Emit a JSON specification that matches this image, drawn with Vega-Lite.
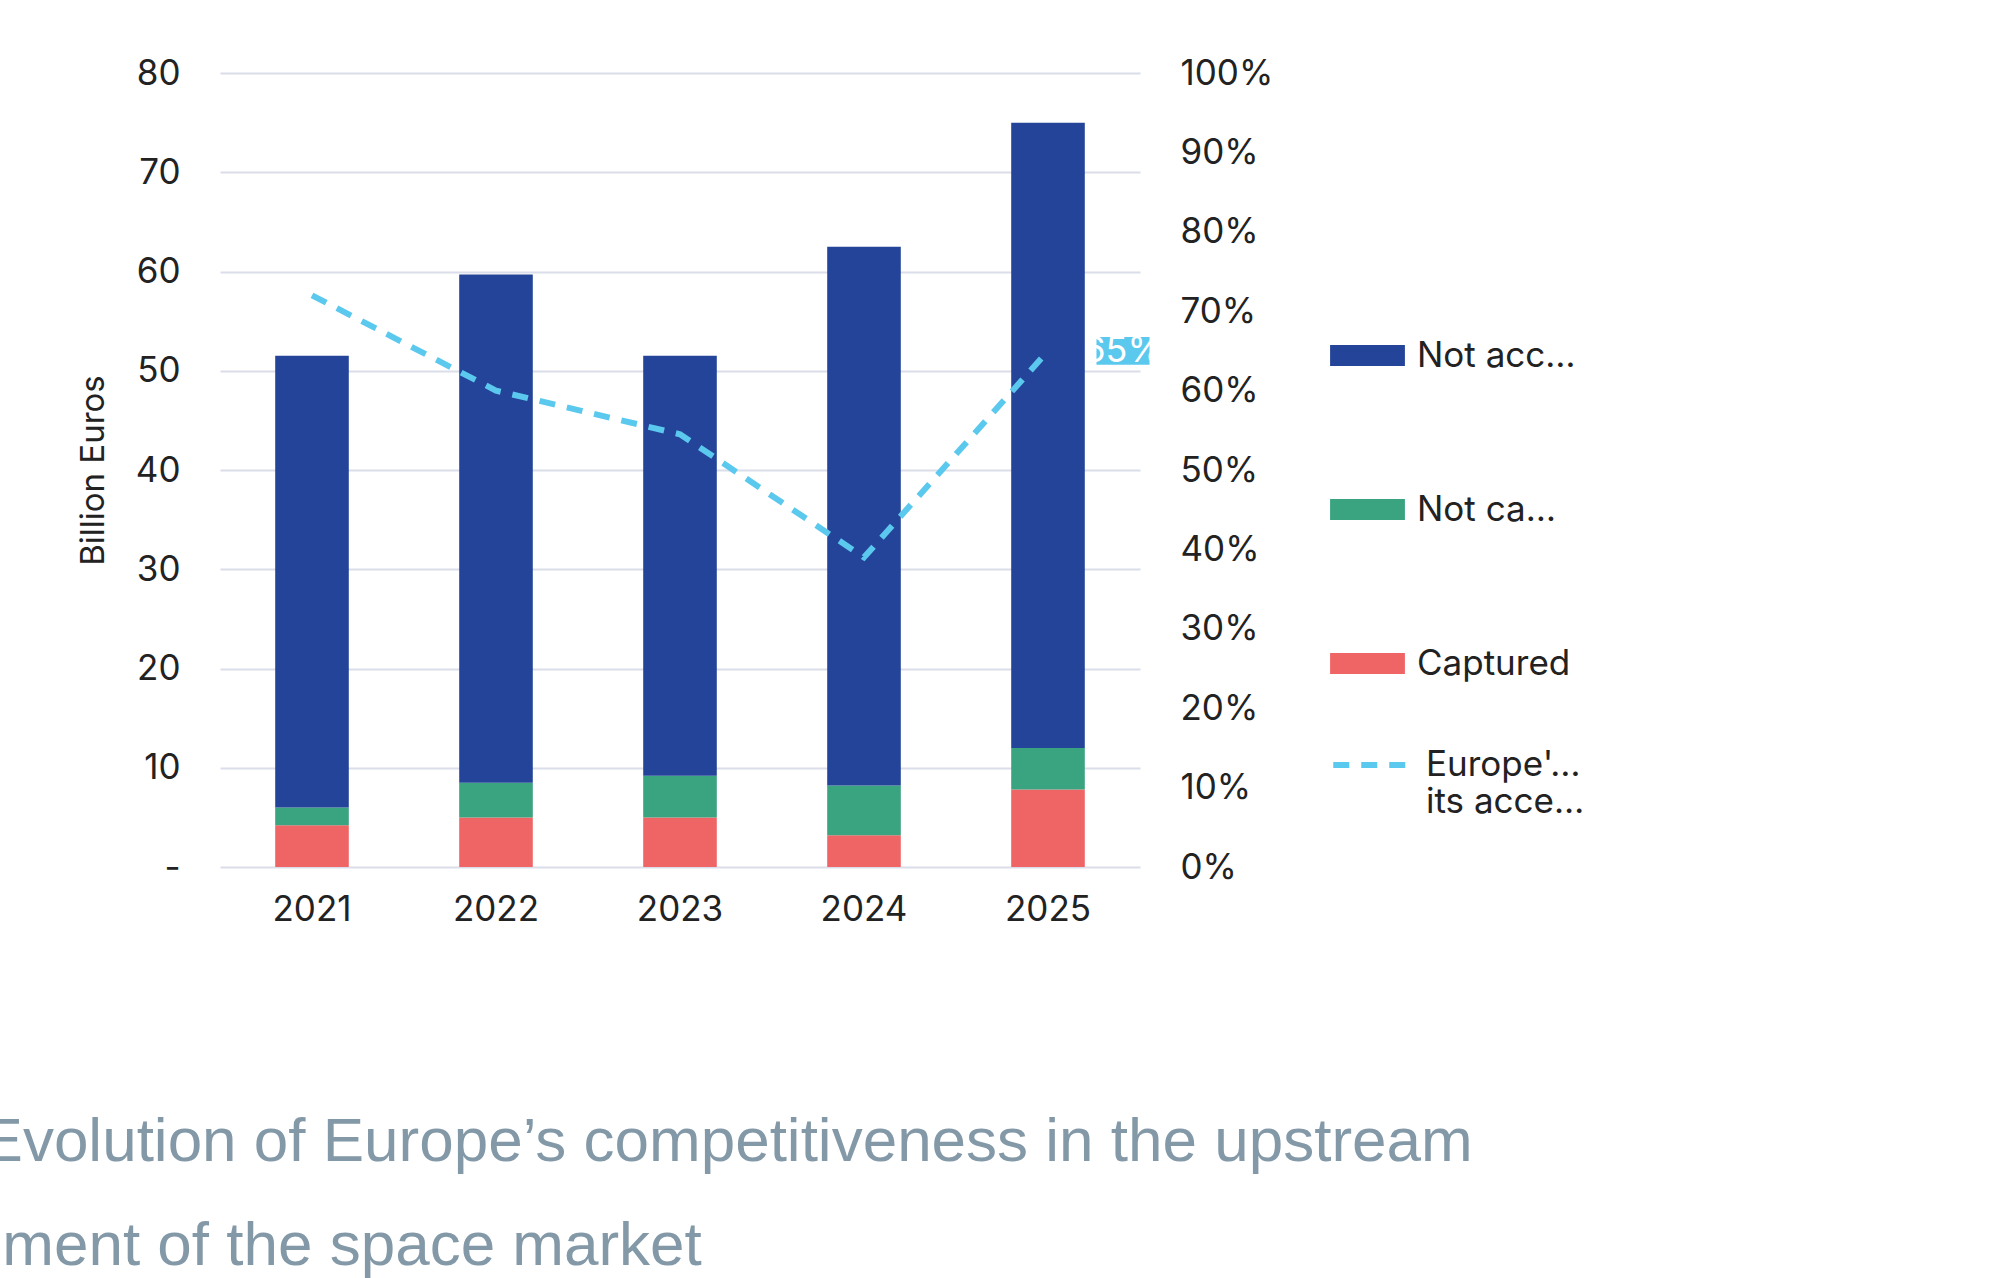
{
  "$schema": "https://vega.github.io/schema/vega-lite/v6.json",
  "width": 920,
  "height": 794,
  "autosize": "none",
  "padding": {"left": 220, "top": 73, "right": 860, "bottom": 411},
  "background": "white",
  "config": {
    "font": "Inter",
    "view": {"stroke": null},
    "axis": {"labelFont": "Inter", "labelFontSize": 35, "labelColor": "#222", "titleFont": "Inter", "titleFontSize": 33, "titleColor": "#222", "titleFontWeight": "normal"},
    "legend": {"labelFont": "Inter", "labelFontSize": 35, "labelColor": "#222"}
  },
  "title": {
    "text": ["—    Evolution of Europe’s competitiveness in the upstream", "      segment of the space market"],
    "orient": "bottom", "anchor": "start", "offset": 185, "dx": -175,
    "fontSize": 62, "fontWeight": "normal", "color": "#8499a8", "font": "Liberation Sans", "lineHeight": 104
  },
  "datasets": {
    "bars": [
      {"year": "2021", "cat": "Captured", "o": 1, "v": 4.2},
      {"year": "2021", "cat": "Not captured", "o": 2, "v": 1.8},
      {"year": "2021", "cat": "Not accessible", "o": 3, "v": 45.5},
      {"year": "2022", "cat": "Captured", "o": 1, "v": 5.0},
      {"year": "2022", "cat": "Not captured", "o": 2, "v": 3.5},
      {"year": "2022", "cat": "Not accessible", "o": 3, "v": 51.2},
      {"year": "2023", "cat": "Captured", "o": 1, "v": 5.0},
      {"year": "2023", "cat": "Not captured", "o": 2, "v": 4.2},
      {"year": "2023", "cat": "Not accessible", "o": 3, "v": 42.3},
      {"year": "2024", "cat": "Captured", "o": 1, "v": 3.2},
      {"year": "2024", "cat": "Not captured", "o": 2, "v": 5.0},
      {"year": "2024", "cat": "Not accessible", "o": 3, "v": 54.3},
      {"year": "2025", "cat": "Captured", "o": 1, "v": 7.8},
      {"year": "2025", "cat": "Not captured", "o": 2, "v": 4.2},
      {"year": "2025", "cat": "Not accessible", "o": 3, "v": 63.0}
    ],
    "share": [
      {"year": "2021", "s": 0.72, "series": "Europe's market share (on its accessible market)"},
      {"year": "2022", "s": 0.60, "series": "Europe's market share (on its accessible market)"},
      {"year": "2023", "s": 0.545, "series": "Europe's market share (on its accessible market)"},
      {"year": "2024", "s": 0.39, "series": "Europe's market share (on its accessible market)"},
      {"year": "2025", "s": 0.65, "series": "Europe's market share (on its accessible market)", "lab": "65%"}
    ]
  },
  "encoding": {
    "x": {"field": "year", "type": "nominal", "scale": {"paddingInner": 0.6, "paddingOuter": 0.3},
      "axis": {"title": null, "labelAngle": 0, "domain": false, "ticks": false, "labelPadding": 25}}
  },
  "layer": [
    {
      "data": {"name": "bars"},
      "mark": {"type": "bar"},
      "encoding": {
        "y": {"field": "v", "type": "quantitative", "stack": true, "scale": {"domain": [0, 80]},
          "axis": {"title": "Billion Euros", "tickCount": 8, "domain": false, "ticks": false, "labelPadding": 40, "titlePadding": 25,
            "grid": true, "gridColor": "#d9deea", "gridWidth": 2, "labelExpr": "datum.value == 0 ? '-' : datum.label"}},
        "color": {"field": "cat", "type": "nominal",
          "scale": {"domain": ["Not accessible", "Not captured", "Captured"], "range": ["#24449a", "#3aa37f", "#ef6565"]},
          "legend": {"title": null, "orient": "none", "legendX": 1110, "legendY": 245, "symbolType": "M-1,-0.28H1V0.28H-1Z",
            "symbolSize": 5600, "symbolStrokeWidth": 0, "rowPadding": 98, "labelOffset": 12}},
        "order": {"field": "o", "sort": "ascending"}
      }
    },
    {
      "data": {"name": "share"},
      "mark": {"type": "line", "strokeWidth": 6, "strokeDash": [16, 12], "color": "#5bc8ee"},
      "encoding": {
        "y": {"field": "s", "type": "quantitative", "scale": {"domain": [0, 1]},
          "axis": {"orient": "right", "title": null, "format": ".0%", "tickCount": 10, "domain": false, "ticks": false, "grid": false, "labelPadding": 40}},
        "strokeDash": {"field": "series", "type": "nominal", "scale": {"range": [[16, 12]]},
          "legend": {"title": null, "orient": "none", "legendX": 1110, "legendY": 650, "symbolStrokeColor": "#5bc8ee", "symbolStrokeWidth": 6,
            "symbolSize": 6000, "labelOffset": 12, "labelExpr": "['Europe\\'s market share (on', 'its accessible market)']"}}
      }
    },
    {
      "data": {"name": "share"},
      "transform": [{"filter": "datum.lab"}],
      "mark": {"type": "point", "shape": "M-1.9,-1H1.9V1H-1.9Z", "size": 780, "filled": true, "color": "#5bc8ee", "opacity": 1, "xOffset": 75},
      "encoding": {"y": {"field": "s", "type": "quantitative", "scale": {"domain": [0, 1]}, "axis": null}}
    },
    {
      "data": {"name": "share"},
      "transform": [{"filter": "datum.lab"}],
      "mark": {"type": "text", "color": "white", "fontSize": 36, "font": "Inter", "xOffset": 75},
      "encoding": {"y": {"field": "s", "type": "quantitative", "scale": {"domain": [0, 1]}, "axis": null}, "text": {"field": "lab"}}
    }
  ],
  "resolve": {"scale": {"y": "independent"}}
}
